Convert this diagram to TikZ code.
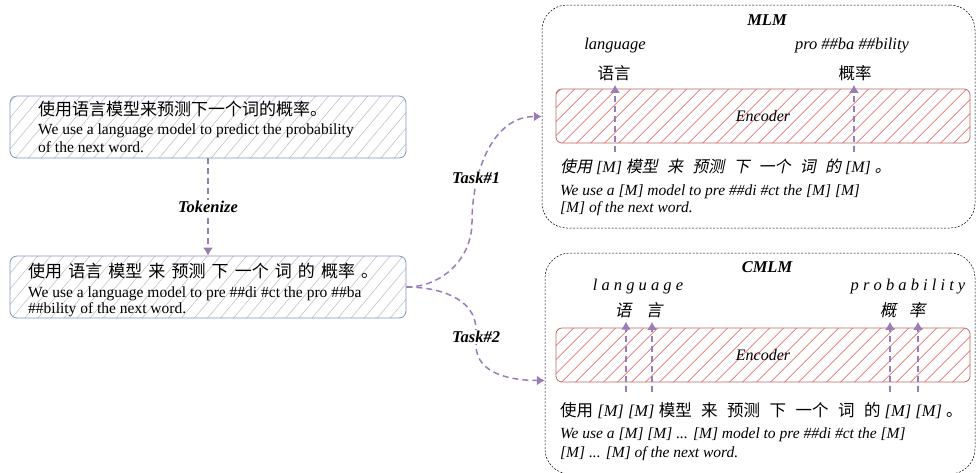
\documentclass[tikz,border=0pt]{standalone}
\usepackage{fontspec}
\setmainfont{Liberation Serif}
\newfontfamily\zhfont[WordSpace=1.6]{Noto Sans CJK SC}
\newfontfamily\zhslant[WordSpace=1.6,FakeSlant=0.2]{Noto Sans CJK SC}
\usetikzlibrary{arrows.meta,patterns.meta}

\definecolor{flowpurple}{HTML}{9A7DB5}
\definecolor{boxblue}{HTML}{7F93BF}
\definecolor{hatchgray}{HTML}{C2C2C2}
\definecolor{encred}{HTML}{C06464}
\definecolor{hatchred}{HTML}{E05454}

\tikzset{
  zh/.style={font=\zhfont\fontsize{17}{19}\selectfont, inner sep=0pt, anchor=base west},
  en/.style={font=\fontsize{15.5}{17}\selectfont, inner sep=0pt, anchor=base west},
  enit/.style={en, font=\itshape\fontsize{15.5}{17}\selectfont},
  zhline/.style={font=\itshape\fontsize{16}{18}\selectfont, inner sep=0pt, anchor=base west},
  word/.style={font=\itshape\fontsize{16.5}{18}\selectfont, inner sep=0pt},
  zhword/.style={font=\zhfont\fontsize{16.5}{18}\selectfont, inner sep=0pt},
  srcbox/.style={draw=boxblue, line width=0.8pt, rounded corners=7pt,
    pattern={Lines[angle=50,distance=10pt,line width=0.6pt]}, pattern color=hatchgray},
  encbox/.style={draw=encred, line width=0.8pt, rounded corners=6pt,
    pattern={Lines[angle=45,distance=10.5pt,line width=0.7pt]}, pattern color=hatchred,
    font=\itshape\fontsize{16}{18}\selectfont},
  taskbox/.style={draw, line width=0.5pt, dash pattern=on 2pt off 1.5pt, rounded corners=25pt},
  flow/.style={draw=flowpurple, line width=1.5pt, dash pattern=on 6pt off 4pt,
    -{Latex[length=8pt,width=10pt]}},
  tag/.style={font=\bfseries\itshape\fontsize{16.5}{18}\selectfont, fill=white, inner sep=1pt},
}

\begin{document}
\begin{tikzpicture}[x=1pt,y=-1pt]
  \useasboundingbox (0,0) rectangle (977,472);
  \clip (0,0) rectangle (977,472);

  % sentence, then tokenized sentence
  \node[srcbox, minimum width=396pt, minimum height=62pt] (sent) at (208,127) {};
  \node[zh] (sentzh) at (38,115) {使用语言模型来预测下一个词的概率。};
  \node[en] (senten) at (38,134) {We use a language model to predict the probability};
  \node[en] (sentend) at (38,152) {of the next word.};

  \node[srcbox, minimum width=396pt, minimum height=62pt] (tok) at (208,287) {};
  \node[zh] (tokzh) at (28,277) {使用 语言 模型 来 预测 下 一个 词 的 概率 。};
  \node[en] (token) at (28,297) {We use a language model to pre \#\#di \#ct the pro \#\#ba};
  \node[en] (tokend) at (28,313) {\#\#bility of the next word.};

  \draw[flow] (sent) -- (tok) node[tag, midway] (tokenize) {Tokenize};

  % the two tasks
  \node[taskbox, minimum width=433pt, minimum height=223pt] (mlm) at (758.5,116.5) {};
  \node[taskbox, minimum width=430pt, minimum height=221pt] (cmlm) at (760,363.5) {};

  \coordinate (bend1) at (472,222);
  \coordinate (bend2a) at (476,330);
  \coordinate (bend2b) at (476,345);
  \draw[flow] (tok.east) to[out=0,in=-90] (bend1) to[out=90,in=180] (mlm.west);
  \draw[flow] (tok.east) to[out=0,in=90] (bend2a) -- (bend2b) to[out=-90,in=180] ([yshift=-17pt]cmlm.west);
  \node[tag] (task1) at (476,178) {Task\#1};
  \node[tag] (task2) at (476,337) {Task\#2};

  % MLM
  \node[tag, fill=none] (mlmtitle) at (767,20) {MLM};
  \node[word] (lang) at (615,46) {language};
  \node[zhword] (yuyan) at (614,73) {语言};
  \node[word] (prob) at (852,46) {pro \#\#ba \#\#bility};
  \node[zhword] (gailv) at (855,73) {概率};
  \node[encbox, minimum width=414pt, minimum height=54pt] (enc1) at (763,116) {Encoder};
  \coordinate (m1) at (615,152);
  \coordinate (m2) at (854,152);
  \draw[flow] (m1) -- ([yshift=-4pt]m1 |- yuyan.south);
  \draw[flow] (m2) -- ([yshift=-4pt]m2 |- gailv.south);
  \node[zhline] (mlmzh) at (560,172) {{\zhslant 使用} [M] {\zhslant 模型 来 预测 下 一个 词 的} [M] {\zhslant 。}};
  \node[enit] (mlmen) at (560,195) {We use a [M] model to pre \#\#di \#ct the [M] [M]};
  \node[enit] (mlmend) at (560,212) {[M] of the next word.};

  % CMLM
  \node[tag, fill=none] (cmlmtitle) at (767,267) {CMLM};
  \node[word] (lang2) at (638,287) {l a n g u a g e};
  \node[zhword, font=\zhslant\fontsize{16.5}{18}\selectfont] (yu) at (623,310) {语};
  \node[zhword, font=\zhslant\fontsize{16.5}{18}\selectfont] (yan) at (654,310) {言};
  \node[word] (prob2) at (908,287) {p r o b a b i l i t y};
  \node[zhword, font=\zhslant\fontsize{16.5}{18}\selectfont] (gai) at (888,310) {概};
  \node[zhword, font=\zhslant\fontsize{16.5}{18}\selectfont] (lv) at (917,310) {率};
  \node[encbox, minimum width=414pt, minimum height=54pt] (enc2) at (763,355) {Encoder};
  \coordinate (c1) at (626,392);
  \coordinate (c2) at (652,392);
  \coordinate (c3) at (890,392);
  \coordinate (c4) at (918,392);
  \draw[flow] (c1) -- ([yshift=-4pt]c1 |- yu.south);
  \draw[flow] (c2) -- ([yshift=-4pt]c2 |- yan.south);
  \draw[flow] (c3) -- ([yshift=-4pt]c3 |- gai.south);
  \draw[flow] (c4) -- ([yshift=-4pt]c4 |- lv.south);
  \node[zhline, font=\itshape\fontsize{16.5}{18}\selectfont] (cmlmzh) at (560,416) {{\zhfont 使用} [M] [M] {\zhfont 模型 来 预测 下 一个 词 的} [M] [M] {\zhfont 。}};
  \node[enit] (cmlmen) at (560,438) {We use a [M] [M] ... [M] model to pre \#\#di \#ct the [M]};
  \node[enit] (cmlmend) at (560,457) {[M] ... [M] of the next word.};
\end{tikzpicture}
\end{document}
